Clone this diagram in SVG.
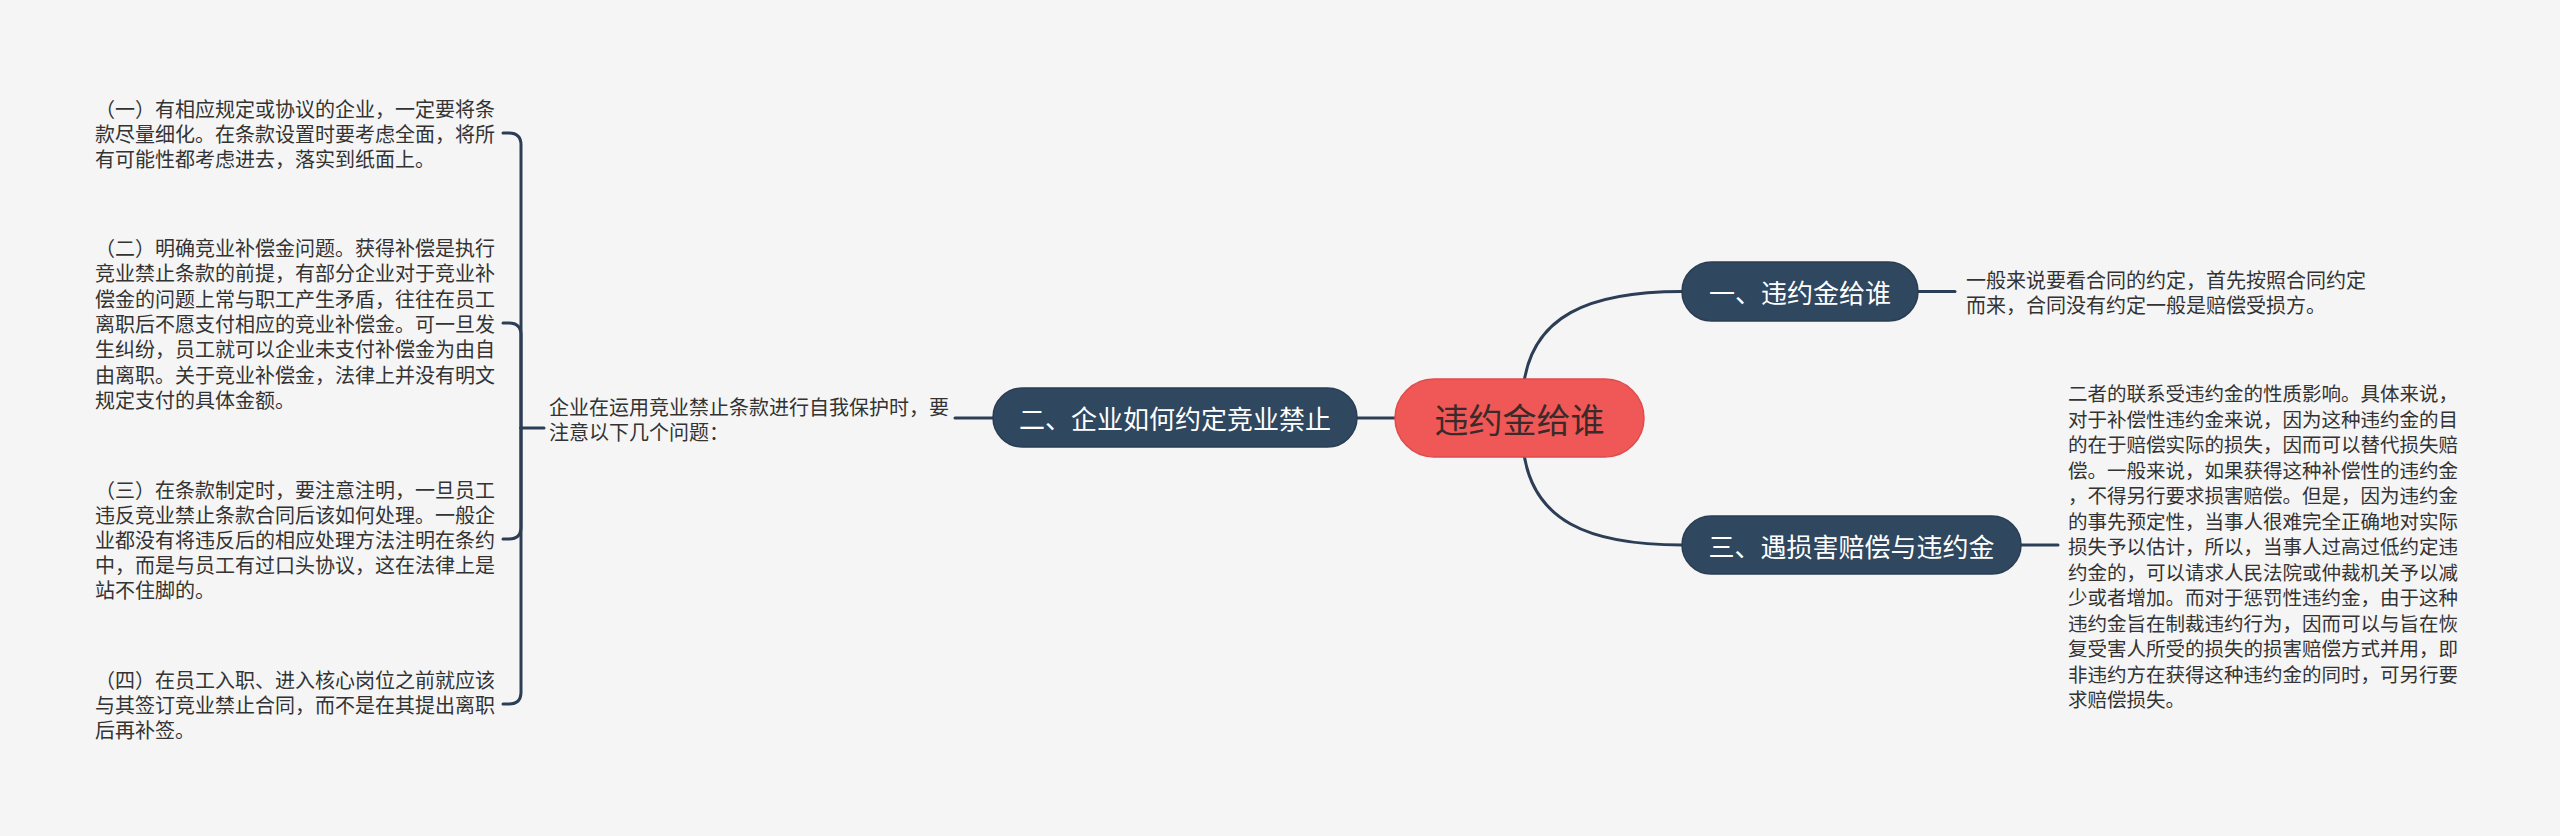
<svg xmlns="http://www.w3.org/2000/svg" width="2560" height="836" viewBox="0 0 2560 836">
<style>
.bg{fill:#f5f5f5}
.conn{fill:none;stroke:#2c3e55;stroke-width:3;stroke-linecap:round}
.main{fill:#304760;stroke:#2a3d53;stroke-width:1.5}
.root{fill:#f05757;stroke:#e04b4b;stroke-width:1.5}
.mt{font-family:"Noto Sans CJK SC","Noto Sans",sans-serif;font-size:26px;fill:#ffffff;dominant-baseline:central}
.rt{font-family:"Noto Sans CJK SC","Noto Sans",sans-serif;font-size:34px;fill:#3a2a2a;dominant-baseline:central}
.lt{font-family:"Noto Sans CJK SC","Noto Sans",sans-serif;font-size:20px;fill:#333333;dominant-baseline:central}
.lts{font-size:19.5px}
</style>
<rect class="bg" x="0" y="0" width="2560" height="836"/>
<g id="connectors">
<path class="conn" d="M1523 390 C1530 315 1590 291.5 1682 291.5"/>
<path class="conn" d="M1523 446 C1530 522 1590 545 1682 545"/>
<path class="conn" d="M1395 418 H1357"/>
<path class="conn" d="M993 418 H955"/>
<path class="conn" d="M1918 291.5 H1955"/>
<path class="conn" d="M2021 545 H2058"/>
<path class="conn" d="M544 428 H521"/>
<path class="conn" d="M521 428 V145 Q521 133 509 133 H503"/>
<path class="conn" d="M521 428 V335 Q521 323 509 323 H503"/>
<path class="conn" d="M521 428 V527 Q521 539 509 539 H503"/>
<path class="conn" d="M521 428 V692 Q521 704 509 704 H503"/>
</g>
<g id="root">
<rect class="root" x="1395" y="379" width="249" height="78" rx="39"/>
<text class="rt" x="1519.5" y="418" text-anchor="middle">违约金给谁</text>
</g>
<g id="n1">
<rect class="main" x="1682" y="262" width="236" height="59" rx="29.5"/>
<text class="mt" x="1800" y="291.5" text-anchor="middle">一、违约金给谁</text>
</g>
<g id="n2">
<rect class="main" x="993" y="388" width="364" height="59" rx="29.5"/>
<text class="mt" x="1175" y="417.5" text-anchor="middle">二、企业如何约定竞业禁止</text>
</g>
<g id="n3">
<rect class="main" x="1682" y="516" width="339" height="58" rx="29"/>
<text class="mt" x="1851.5" y="545" text-anchor="middle">三、遇损害赔偿与违约金</text>
</g>
<g id="n1-detail">
<text class="lt"><tspan x="1966" y="279">一般来说要看合同的约定，首先按照合同约定</tspan><tspan x="1966" y="304">而来，合同没有约定一般是赔偿受损方。</tspan></text>
</g>
<g id="n3-detail">
<text class="lt lts">
<tspan x="2068" y="392">二者的联系受违约金的性质影响。具体来说，</tspan>
<tspan x="2068" y="417.5">对于补偿性违约金来说，因为这种违约金的目</tspan>
<tspan x="2068" y="443">的在于赔偿实际的损失，因而可以替代损失赔</tspan>
<tspan x="2068" y="468.5">偿。一般来说，如果获得这种补偿性的违约金</tspan>
<tspan x="2068" y="494">，不得另行要求损害赔偿。但是，因为违约金</tspan>
<tspan x="2068" y="519.5">的事先预定性，当事人很难完全正确地对实际</tspan>
<tspan x="2068" y="545">损失予以估计，所以，当事人过高过低约定违</tspan>
<tspan x="2068" y="570.5">约金的，可以请求人民法院或仲裁机关予以减</tspan>
<tspan x="2068" y="596">少或者增加。而对于惩罚性违约金，由于这种</tspan>
<tspan x="2068" y="621.5">违约金旨在制裁违约行为，因而可以与旨在恢</tspan>
<tspan x="2068" y="647">复受害人所受的损失的损害赔偿方式并用，即</tspan>
<tspan x="2068" y="672.5">非违约方在获得这种违约金的同时，可另行要</tspan>
<tspan x="2068" y="698">求赔偿损失。</tspan>
</text>
</g>
<g id="n2-detail">
<text class="lt"><tspan x="549" y="406">企业在运用竞业禁止条款进行自我保护时，要</tspan><tspan x="549" y="431">注意以下几个问题：</tspan></text>
</g>
<g id="item1">
<text class="lt"><tspan x="95" y="108">（一）有相应规定或协议的企业，一定要将条</tspan><tspan x="95" y="133">款尽量细化。在条款设置时要考虑全面，将所</tspan><tspan x="95" y="158">有可能性都考虑进去，落实到纸面上。</tspan></text>
</g>
<g id="item2">
<text class="lt">
<tspan x="95" y="247">（二）明确竞业补偿金问题。获得补偿是执行</tspan>
<tspan x="95" y="272.3">竞业禁止条款的前提，有部分企业对于竞业补</tspan>
<tspan x="95" y="297.7">偿金的问题上常与职工产生矛盾，往往在员工</tspan>
<tspan x="95" y="323">离职后不愿支付相应的竞业补偿金。可一旦发</tspan>
<tspan x="95" y="348.3">生纠纷，员工就可以企业未支付补偿金为由自</tspan>
<tspan x="95" y="373.7">由离职。关于竞业补偿金，法律上并没有明文</tspan>
<tspan x="95" y="399">规定支付的具体金额。</tspan>
</text>
</g>
<g id="item3">
<text class="lt">
<tspan x="95" y="489">（三）在条款制定时，要注意注明，一旦员工</tspan>
<tspan x="95" y="514">违反竞业禁止条款合同后该如何处理。一般企</tspan>
<tspan x="95" y="539">业都没有将违反后的相应处理方法注明在条约</tspan>
<tspan x="95" y="564">中，而是与员工有过口头协议，这在法律上是</tspan>
<tspan x="95" y="589">站不住脚的。</tspan>
</text>
</g>
<g id="item4">
<text class="lt"><tspan x="95" y="679">（四）在员工入职、进入核心岗位之前就应该</tspan><tspan x="95" y="704">与其签订竞业禁止合同，而不是在其提出离职</tspan><tspan x="95" y="729">后再补签。</tspan></text>
</g>
</svg>
